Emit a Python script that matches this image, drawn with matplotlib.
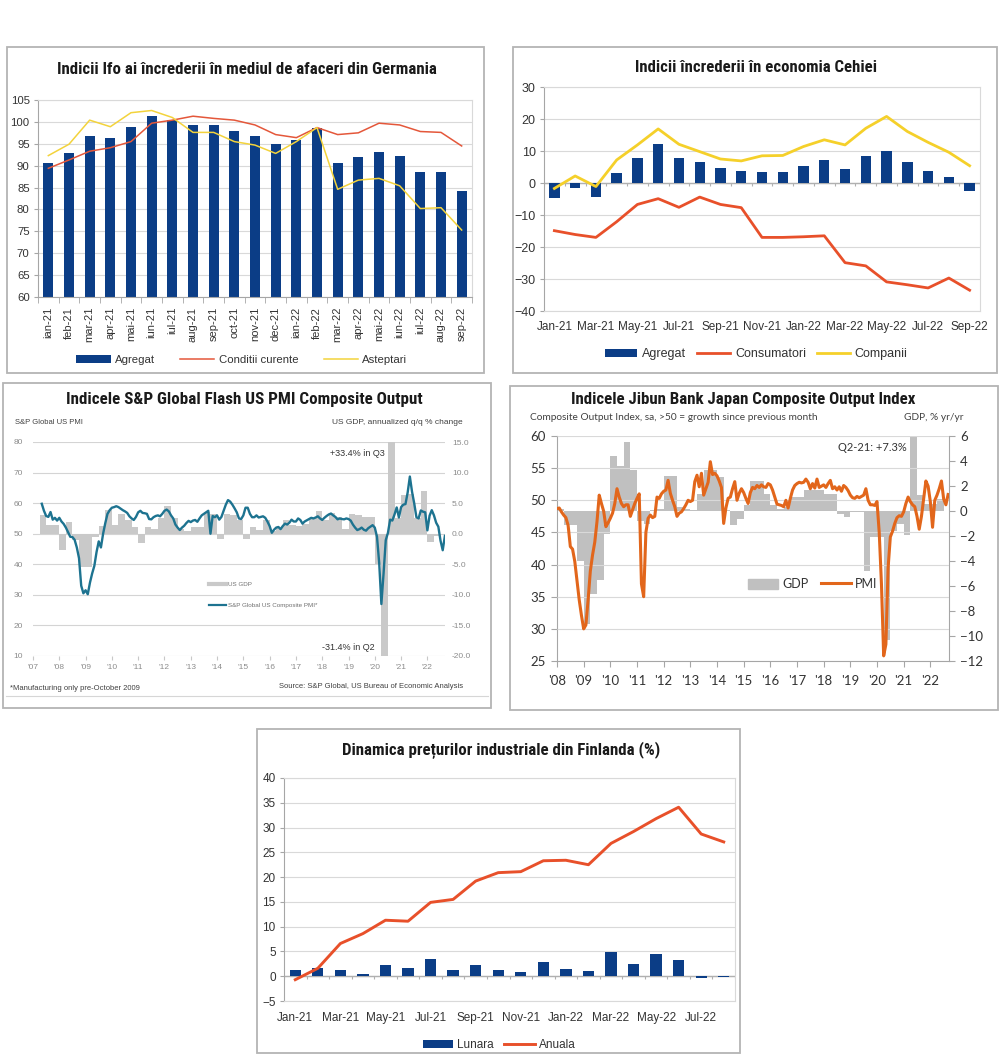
import numpy as np
import matplotlib
matplotlib.use('Agg')
import matplotlib.pyplot as plt
import matplotlib.font_manager as fm
from matplotlib.patches import Rectangle, Patch
from matplotlib.lines import Line2D

# ---------------- data ----------------
# Germania - Ifo
ifo_months = ['ian-21', 'feb-21', 'mar-21', 'apr-21', 'mai-21', 'iun-21', 'iul-21',
              'aug-21', 'sep-21', 'oct-21', 'nov-21', 'dec-21', 'ian-22', 'feb-22',
              'mar-22', 'apr-22', 'mai-22', 'iun-22', 'iul-22', 'aug-22', 'sep-22']
ifo_agregat = [90.7, 93.0, 96.7, 96.4, 98.8, 101.3, 100.4, 99.4, 99.3, 97.9, 96.8,
               94.9, 95.8, 98.7, 90.7, 91.9, 93.2, 92.3, 88.6, 88.6, 84.2]
ifo_curente = [89.4, 91.3, 93.3, 94.1, 95.5, 99.7, 100.4, 101.3, 100.8, 100.4, 99.3,
               97.1, 96.4, 98.7, 97.1, 97.5, 99.7, 99.3, 97.8, 97.6, 94.5]
ifo_asteptari = [92.3, 94.9, 100.4, 98.9, 102.1, 102.6, 101.0, 97.6, 97.6, 95.5, 94.7,
                 92.8, 95.5, 98.7, 84.6, 86.7, 87.1, 85.4, 80.2, 80.4, 75.3]

# Cehia
cz_months = ['Jan-21', 'Feb-21', 'Mar-21', 'Apr-21', 'May-21', 'Jun-21', 'Jul-21',
             'Aug-21', 'Sep-21', 'Oct-21', 'Nov-21', 'Dec-21', 'Jan-22', 'Feb-22',
             'Mar-22', 'Apr-22', 'May-22', 'Jun-22', 'Jul-22', 'Aug-22', 'Sep-22']
cz_agregat = [-4.6, -1.5, -4.3, 3.1, 7.9, 12.3, 7.9, 6.7, 4.6, 3.9, 3.3,
              3.3, 5.4, 7.2, 4.4, 8.3, 10.0, 6.5, 3.6, 1.8, -2.5]
cz_consumatori = [-14.9, -16.1, -17.0, -12.1, -6.7, -4.9, -7.6, -4.4, -6.7, -7.7, -17.0,
                  -17.0, -16.8, -16.5, -24.9, -25.9, -30.9, -31.8, -32.8, -29.7, -33.5]
cz_companii = [-1.7, 2.2, -1.1, 7.2, 11.9, 16.9, 12.1, 9.8, 7.5, 6.9, 8.5,
               8.6, 11.4, 13.5, 11.9, 17.1, 20.8, 16.1, 12.7, 9.6, 5.4]

# SUA - PMI compozit lunar (din mai 2007) si PIB trimestrial (din T2 2007)
us_pmi_start = 2007 + 4 / 12
us_pmi = [59.8, 57.5, 55.8, 55.5, 57.1, 54.6, 55.2, 54.3,
          55.2, 54.0, 53.2, 52.0, 50.5, 49.0, 48.9, 48.0, 45.5, 42.0, 33.0, 30.5,
          31.5, 30.2, 34.0, 37.0, 39.5, 44.0, 47.5, 45.5, 50.0, 53.5, 56.5, 57.7,
          58.5, 58.7, 59.0, 58.7, 58.2, 57.7, 57.3, 56.8, 55.7, 55.0, 54.5, 55.5,
          57.0, 57.5, 56.8, 56.7, 56.5, 54.8, 54.7, 55.4, 55.8, 56.0, 55.7, 56.5,
          57.5, 57.9, 57.3, 56.0, 55.0, 53.0, 52.0, 51.2, 52.0, 52.6, 53.5, 54.2,
          53.8, 54.3, 54.5, 53.9, 55.0, 56.0, 56.5, 57.0, 57.5, 50.0, 55.8, 55.4,
          56.0, 54.6, 55.5, 57.5, 59.5, 61.0, 60.5, 59.5, 58.3, 57.0, 55.0, 54.8,
          56.0, 58.5, 58.5, 56.5, 55.4, 55.4, 56.0, 55.3, 55.5, 55.7, 55.2, 54.0,
          52.5, 50.3, 51.3, 52.0, 52.2, 51.5, 52.5, 53.3, 53.0, 53.6, 54.6, 54.0,
          54.0, 55.0, 54.5, 53.3, 54.0, 54.4, 54.8, 55.2, 55.0, 55.3, 55.7, 55.0,
          54.5, 55.2, 55.8, 56.3, 56.6, 56.0, 55.5, 54.7, 55.0, 54.8, 54.7, 55.0,
          54.8, 54.3, 53.0, 52.0, 51.2, 51.5, 52.0, 51.3, 51.0, 51.8, 52.3, 52.8,
          52.0, 49.0, 40.5, 27.0, 37.0, 47.9, 50.3, 54.6, 54.3, 56.3, 58.6, 55.3,
          58.7, 59.5, 59.7, 63.5, 68.7, 63.7, 59.9, 55.4, 55.0, 57.6, 57.2, 57.0,
          51.1, 55.9, 57.7, 56.0, 53.6, 52.3, 47.7, 44.6, 49.3]
us_gdp_start = 2007.25
us_gdp = [3.0, 1.5, 1.5,
          -2.7, 1.9, -1.0, -5.5,
          -5.5, -0.5, 1.2, 3.8,
          1.5, 3.3, 2.3, 1.1,
          -1.5, 1.1, 0.8, 2.6,
          4.5, 2.6, 0.8, 0.5,
          1.1, 1.1, 3.5, 3.3,
          -0.8, 3.3, 3.0, 2.3,
          -0.8, 1.1, 0.6, 2.3,
          0.5, 1.0, 2.3, 1.4,
          1.2, 1.6, 2.6, 3.7,
          2.3, 3.4, 2.8, 0.8,
          3.3, 3.0, 2.8, 2.8,
          -4.9, -31.4, 33.4, 2.5,
          6.3, 6.5, 2.5, 7.0,
          -1.4, -0.4]
us_years = ["'07", "'08", "'09", "'10", "'11", "'12", "'13", "'14", "'15", "'16",
            "'17", "'18", "'19", "'20", "'21", "'22"]

# Japonia - PMI compozit lunar (din ian 2008) si PIB trimestrial (din T1 2008)
jp_pmi_start = 2008.0
jp_pmi = [48.7, 48.8, 48.2, 47.7, 47.3, 46.1, 42.8, 42.4, 40.5, 37.5, 34.5, 32.1,
          30.0, 30.6, 34.5, 39.0, 41.5, 43.5, 46.7, 50.8, 49.5, 48.3, 45.9, 46.5,
          47.2, 48.0, 49.5, 51.8, 50.5, 49.5, 49.0, 49.3, 49.3, 47.5, 48.5, 49.5,
          50.3, 51.0, 37.0, 35.0, 45.0, 47.2, 47.7, 47.3, 47.5, 50.5, 50.3, 51.0,
          51.4, 51.6, 53.1, 51.1, 50.0, 49.0, 47.5, 48.0, 48.2, 48.7, 49.3, 50.0,
          49.8, 50.0, 52.9, 53.9, 52.1, 54.2, 50.8, 51.8, 52.8, 56.0, 54.0, 54.2,
          53.8, 53.0, 52.0, 46.4, 48.8, 50.3, 50.5, 51.8, 52.9, 50.0, 51.1, 51.8,
          51.2, 50.3, 49.5, 51.2, 52.0, 51.8, 52.3, 52.0, 52.4, 52.1, 52.0, 52.6,
          52.4, 51.6, 50.5, 49.4, 49.3, 49.2, 49.0, 50.0, 48.8, 50.3, 51.6, 52.3,
          52.6, 52.8, 52.7, 52.8, 53.3, 52.8, 51.8, 52.6, 51.9, 53.3, 52.0, 52.2,
          52.4, 52.0, 52.6, 53.1, 51.8, 52.1, 51.6, 52.1, 51.4, 52.3, 52.0, 51.5,
          50.8, 50.4, 50.3, 50.6, 50.4, 50.6, 50.8, 51.8, 50.0, 49.3, 49.3, 49.2,
          49.8, 45.0, 37.0, 25.8, 27.6, 39.5, 44.3, 45.2, 46.4, 47.3, 47.6, 47.5,
          48.2, 49.5, 50.5, 49.8, 49.3, 49.0, 47.5, 45.5, 47.5, 50.3, 53.0, 52.2,
          49.8, 45.8, 50.0, 50.8, 51.8, 53.0, 50.2, 49.3, 50.9]
jp_gdp_start = 2008.0
jp_gdp = [0.2, -1.1, -1.1, -4.0,
          -9.0, -6.6, -5.5, -1.8,
          4.4, 3.6, 5.5, 3.3,
          -0.8, -1.0, 0.1, 0.2,
          2.8, 2.8, 0.3, 0.2,
          0.1, 1.4, 3.3, 3.3,
          2.7, 0.1, -1.1, -0.6,
          0.5, 2.4, 2.4, 1.4,
          0.5, 0.2, 0.3, 1.1,
          1.1, 1.7, 1.7, 1.7,
          1.4, 1.4, -0.2, -0.5,
          -0.1, -0.1, -4.8, -2.1,
          -2.1, -10.3, -1.6, -1.0,
          -1.9, 7.3, 1.3, 0.6,
          0.6, 1.0]
jp_years = ["'08", "'09", "'10", "'11", "'12", "'13", "'14", "'15", "'16",
            "'17", "'18", "'19", "'20", "'21", "'22"]

# Finlanda
fi_months = ['Jan-21', 'Feb-21', 'Mar-21', 'Apr-21', 'May-21', 'Jun-21', 'Jul-21',
             'Aug-21', 'Sep-21', 'Oct-21', 'Nov-21', 'Dec-21', 'Jan-22', 'Feb-22',
             'Mar-22', 'Apr-22', 'May-22', 'Jun-22', 'Jul-22', 'Aug-22']
fi_lunara = [1.3, 1.7, 1.3, 0.5, 2.3, 1.7, 3.4, 1.3, 2.3, 1.2,
             0.85, 2.9, 1.5, 1.0, 4.9, 2.5, 4.5, 3.3, -0.4, -0.15]
fi_anuala = [-0.7, 1.6, 6.6, 8.6, 11.3, 11.1, 14.9, 15.5, 19.2, 20.9,
             21.1, 23.3, 23.4, 22.5, 26.8, 29.2, 31.8, 34.1, 28.7, 27.1]

# ---------------- style ----------------
avail = {f.name for f in fm.fontManager.ttflist}
COND = next((f for f in ['Roboto Condensed', 'Liberation Sans Narrow',
                         'DejaVu Sans Condensed', 'Open Sans Condensed']
             if f in avail), 'DejaVu Sans')
CAL = 'Lato' if 'Lato' in avail else 'DejaVu Sans'
plt.rcParams['font.family'] = ['Liberation Sans', 'DejaVu Sans']

NAVY = '#0b3d86'
RED = '#e8502a'
YELLOW = '#f5d02a'
GRID = '#d9d9d9'
AXC = '#a6a6a6'

W, H = 1000, 1055
fig = plt.figure(figsize=(W / 100, H / 100), dpi=100)


def axrect(x0, y0, x1, y1):
    return [x0 / W, 1 - y1 / H, (x1 - x0) / W, (y1 - y0) / H]


def fx(x):
    return x / W


def fy(y):
    return 1 - y / H


def frame(x0, y0, x1, y1):
    fig.add_artist(Rectangle((fx(x0), fy(y1)), (x1 - x0) / W, (y1 - y0) / H,
                             transform=fig.transFigure, fill=False,
                             ec='#b4b4b4', lw=1.3))


def ftext(x, y, s, **kw):
    kw.setdefault('va', 'center')
    return fig.text(fx(x), fy(y), s, **kw)


titles = []


def title(xc, y, s, width):
    t = ftext(xc, y, s, ha='center', fontsize=12, fontweight='bold',
              family=COND, color='#1a1a1a')
    titles.append((t, width))


def excel_axes(ax):
    for s in ax.spines.values():
        s.set_color(GRID)
        s.set_linewidth(0.8)
    ax.spines['left'].set_color(AXC)
    ax.yaxis.grid(True, color=GRID, lw=0.8)
    ax.set_axisbelow(True)
    ax.tick_params(axis='y', length=3, color=AXC, labelsize=8.2,
                   labelcolor='#333333', pad=3)


# ---------------- panel 1: Germania ----------------
frame(7, 47, 484, 373)
title(247, 70, 'Indicii Ifo ai încrederii în mediul de afaceri din Germania', 380)
ax1 = fig.add_axes(axrect(38, 100, 472, 297))
x1 = np.arange(len(ifo_months))
b1 = ax1.bar(x1, ifo_agregat, width=0.48, color=NAVY, zorder=2)
l1, = ax1.plot(x1, ifo_curente, color='#e4573a', lw=1.1, zorder=3)
l2, = ax1.plot(x1, ifo_asteptari, color='#f3d33c', lw=1.1, zorder=3)
ax1.set_xlim(-0.5, len(x1) - 0.5)
ax1.set_ylim(60, 105)
ax1.set_yticks(range(60, 106, 5))
excel_axes(ax1)
ax1.spines['bottom'].set_color(AXC)
ax1.set_xticks(x1)
ax1.set_xticklabels(ifo_months, rotation=90, fontsize=8, color='#333333')
ax1.set_xticks(np.arange(-0.5, len(x1)), minor=True)
ax1.tick_params(axis='x', which='major', length=0, pad=7)
ax1.tick_params(axis='x', which='minor', length=4, color=AXC)
ax1.legend([b1, l1, l2], ['Agregat', 'Conditii curente', 'Asteptari'],
           loc='center', bbox_to_anchor=(fx(242), fy(360)),
           bbox_transform=fig.transFigure, ncol=3, frameon=False, fontsize=8.2,
           handlelength=3.0, handleheight=0.6, columnspacing=2.2,
           handletextpad=0.4, labelcolor='#333333')

# ---------------- panel 2: Cehia ----------------
frame(513, 47, 997, 373)
title(756, 67, 'Indicii încrederii în economia Cehiei', 242)
ax2 = fig.add_axes(axrect(544, 87, 980, 311))
x2 = np.arange(len(cz_months))
b2 = ax2.bar(x2, cz_agregat, width=0.5, color=NAVY, zorder=2)
l3, = ax2.plot(x2, cz_consumatori, color=RED, lw=2.0, zorder=3)
l4, = ax2.plot(x2, cz_companii, color=YELLOW, lw=2.0, zorder=3)
ax2.axhline(0, color='#b0b0b0', lw=1.0, zorder=1)
ax2.vlines(np.arange(-0.5, len(x2)), -0.9, 0, color='#b0b0b0', lw=0.8, zorder=1)
ax2.set_xlim(-0.5, len(x2) - 0.5)
ax2.set_ylim(-40, 30)
ax2.set_yticks(range(-40, 31, 10))
excel_axes(ax2)
ax2.tick_params(axis='y', labelsize=9)
ax2.set_xticks(x2[::2])
ax2.set_xticklabels(cz_months[::2], fontsize=8.5, color='#333333')
ax2.tick_params(axis='x', length=0, pad=7)
ax2.legend([b2, l3, l4], ['Agregat', 'Consumatori', 'Companii'],
           loc='center', bbox_to_anchor=(fx(756), fy(354)),
           bbox_transform=fig.transFigure, ncol=3, frameon=False, fontsize=9,
           handlelength=2.6, handleheight=0.6, columnspacing=0.9,
           handletextpad=0.4, labelcolor='#333333')

# ---------------- panel 3: SUA ----------------
frame(3, 383, 491, 708)
title(244, 400, 'Indicele S&P Global Flash US PMI Composite Output', 355)
TEAL = '#1d7390'
GREYTXT = '#8c8c8c'
ax3 = fig.add_axes(axrect(33, 442, 445, 656))
ax3p = ax3.twinx()
tq = us_gdp_start + 0.25 * np.arange(len(us_gdp))
ax3.bar(tq, us_gdp, width=0.25, align='edge', color='#c9c9c9', lw=0, zorder=2)
ax3.set_ylim(-20, 15)
ax3.set_yticks(np.arange(-20, 16, 5))
ax3.set_yticklabels(['%.1f' % v for v in np.arange(-20, 16, 5)])
ax3.yaxis.tick_right()
ax3.yaxis.grid(True, color='#d4d4d4', lw=0.8)
ax3.set_axisbelow(True)
ax3.tick_params(axis='y', length=0, pad=5, labelsize=6, labelcolor=GREYTXT)
ax3.set_xlim(2007.0, 2022.67)
ax3.set_xticks(np.arange(2007, 2023))
ax3.set_xticklabels(us_years, fontsize=6, color=GREYTXT)
ax3.tick_params(axis='x', length=3, color='#c8c8c8', pad=3)
for s in ax3.spines.values():
    s.set_visible(False)
tm = us_pmi_start + np.arange(len(us_pmi)) / 12
ax3p.plot(tm, us_pmi, color=TEAL, lw=1.7, zorder=3)
ax3p.set_ylim(10, 80)
ax3p.set_yticks(range(10, 81, 10))
ax3p.yaxis.tick_left()
ax3p.tick_params(axis='y', length=0, pad=7, labelsize=6, labelcolor=GREYTXT)
for s in ax3p.spines.values():
    s.set_visible(False)
ftext(15, 422, 'S&P Global US PMI', fontsize=5.5, color='#404040')
ftext(463, 423, 'US GDP, annualized q/q % change', ha='right', fontsize=6,
      color='#404040')
ftext(385, 454, '+33.4% in Q3', ha='right', fontsize=6.5, color='#333333')
ftext(375, 647, '-31.4% in Q2', ha='right', fontsize=6.5, color='#333333')
fig.legend([Line2D([], [], color='#c9c9c9', lw=3),
            Line2D([], [], color=TEAL, lw=1.6)],
           ['US GDP', 'S&P Global US Composite PMI*'],
           loc='upper left', bbox_to_anchor=(fx(203), fy(576)), frameon=False,
           fontsize=4.5, handlelength=2.8, handletextpad=0.3, labelspacing=2.5,
           labelcolor='#707070')
ftext(10, 688, '*Manufacturing only pre-October 2009', fontsize=5.5, color='#404040')
ftext(463, 686, 'Source: S&P Global, US Bureau of Economic Analysis', ha='right',
      fontsize=5.5, color='#404040')
fig.add_artist(Line2D([fx(6), fx(488)], [fy(696), fy(696)], color='#d6d6d6', lw=0.8))

# ---------------- panel 4: Japonia ----------------
frame(510, 386, 998, 710)
title(743, 400, 'Indicele Jibun Bank Japan Composite Output Index', 345)
ORANGE = '#e2661b'
ax4 = fig.add_axes(axrect(557, 436, 949, 661))
ax4p = ax4.twinx()
tq4 = jp_gdp_start + 0.25 * np.arange(len(jp_gdp))
ax4.bar(tq4, jp_gdp, width=0.25, align='edge', color='#c0c0c0', lw=0, zorder=2)
ax4.set_ylim(-12, 6)
ax4.set_yticks(range(-12, 7, 2))
ax4.yaxis.tick_right()
ax4.tick_params(axis='y', length=4, color=AXC, pad=4, labelsize=9.5,
                labelcolor='#333333')
ax4.set_xlim(2008.0, 2022.7)
ax4.set_xticks(np.arange(2008, 2023))
ax4.set_xticklabels(jp_years, fontsize=9.5, color='#333333', family=CAL)
ax4.tick_params(axis='x', length=4, color=AXC, pad=6)
for lab in ax4.get_yticklabels():
    lab.set_family(CAL)
for k, s in ax4.spines.items():
    s.set_visible(k in ('right', 'bottom', 'left'))
    s.set_color(AXC)
tm4 = jp_pmi_start + np.arange(len(jp_pmi)) / 12
ax4p.plot(tm4, jp_pmi, color=ORANGE, lw=2.2, zorder=3)
ax4p.set_ylim(25, 60)
ax4p.set_yticks(range(25, 61, 5))
ax4p.yaxis.tick_left()
ax4p.yaxis.grid(True, color=GRID, lw=0.8)
ax4p.tick_params(axis='y', length=4, color=AXC, pad=4, labelsize=9.5,
                 labelcolor='#333333')
for lab in ax4p.get_yticklabels():
    lab.set_family(CAL)
for s in ax4p.spines.values():
    s.set_visible(False)
ftext(530, 417, 'Composite Output Index, sa, >50 = growth since previous month',
      fontsize=7.3, color='#404040', family=CAL)
ftext(963, 417, 'GDP, % yr/yr', ha='right', fontsize=7.3, color='#404040', family=CAL)
ftext(907, 448, 'Q2-21: +7.3%', ha='right', fontsize=8, color='#333333', family=CAL)
fig.legend([Patch(color='#c0c0c0'), Line2D([], [], color=ORANGE, lw=2.2)],
           ['GDP', 'PMI'], loc='center left', bbox_to_anchor=(fx(737), fy(584)),
           frameon=False, ncol=2, handlelength=2.4, handleheight=0.9,
           columnspacing=1.0, handletextpad=0.3, labelcolor='#333333',
           prop={'family': CAL, 'size': 9})

# ---------------- panel 5: Finlanda ----------------
frame(257, 729, 740, 1053)
title(501, 750, 'Dinamica prețurilor industriale din Finlanda (%)', 318)
ax5 = fig.add_axes(axrect(284, 778, 735, 1001))
x5 = np.arange(len(fi_months))
b5 = ax5.bar(x5, fi_lunara, width=0.5, color=NAVY, zorder=2)
l5, = ax5.plot(x5, fi_anuala, color=RED, lw=2.1, zorder=3)
ax5.axhline(0, color='#b0b0b0', lw=1.0, zorder=1)
ax5.vlines(np.arange(-0.5, len(x5)), -0.6, 0, color='#b0b0b0', lw=0.8, zorder=1)
ax5.set_xlim(-0.5, len(x5) - 0.5)
ax5.set_ylim(-5, 40)
ax5.set_yticks(range(-5, 41, 5))
excel_axes(ax5)
ax5.tick_params(axis='y', labelsize=8.5)
ax5.set_xticks(x5[::2])
ax5.set_xticklabels(fi_months[::2], fontsize=8.5, color='#333333')
ax5.tick_params(axis='x', length=0, pad=8)
ax5.legend([b5, l5], ['Lunara', 'Anuala'],
           loc='center', bbox_to_anchor=(fx(499), fy(1045)),
           bbox_transform=fig.transFigure, ncol=2, frameon=False, fontsize=8.5,
           handlelength=2.6, handleheight=0.6, columnspacing=0.9,
           handletextpad=0.3, labelcolor='#333333')

# fit the condensed titles to the widths seen in the reference
fig.canvas.draw()
rend = fig.canvas.get_renderer()
for t, w in titles:
    bw = t.get_window_extent(rend).width
    t.set_fontsize(12 * w / bw)

fig.savefig('out.png', dpi=100, facecolor='white')
